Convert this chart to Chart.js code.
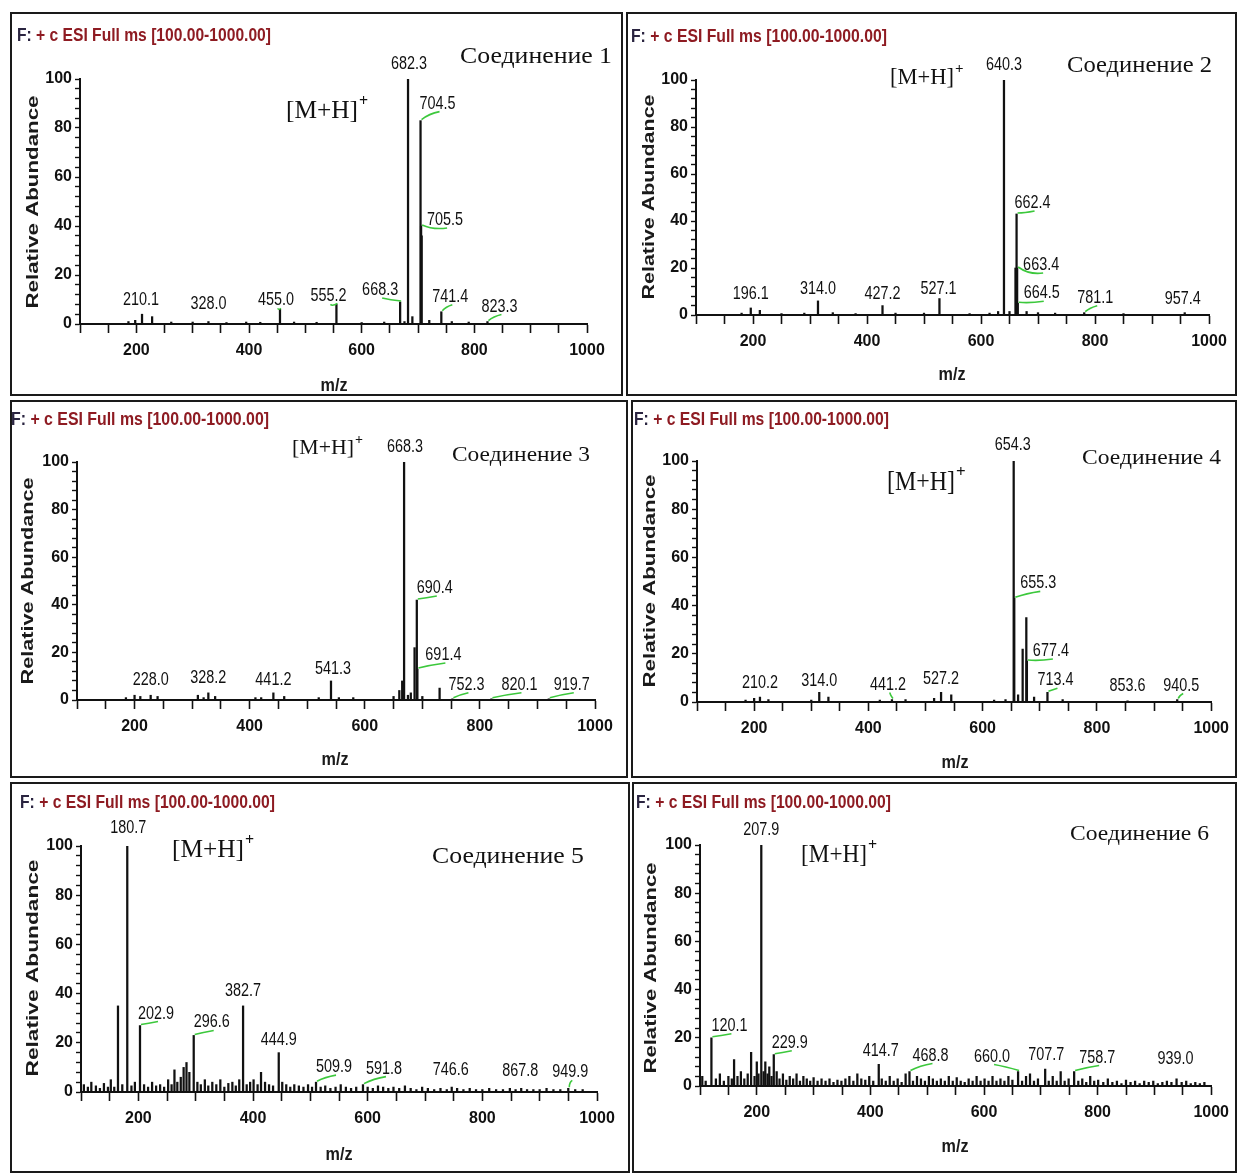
<!DOCTYPE html>
<html>
<head>
<meta charset="utf-8">
<script src="https://cdn.jsdelivr.net/npm/chart.js@4.4.1/dist/chart.umd.min.js"></script>
<style>
body{margin:0;background:#fff;width:1237px;height:1173px;position:relative;overflow:hidden}
.panel{position:absolute;box-sizing:border-box;border:2px solid #1a1a1a;background:#fff}
.panel canvas{position:absolute;left:-2px;top:-2px}
</style>
</head>
<body>
<script>
// Спектры: [m/z, относительная интенсивность %]
const peaks1 = [[186,1],[198,1.5],[210.1,4],[228,3],[262,0.8],[300,0.8],[328.0,1],[360,0.6],[395,0.8],[420,0.7],
  [455.0,6],[480,0.8],[520,0.7],[555.2,8],[600,0.6],[640,0.8],[668.3,9],[676,1],[682.3,100],[690,3],
  [704.5,83],[705.5,40],[706.5,36],[720,1.5],[741.4,5],[760,1],[790,0.8],[823.3,1]];
const peaks2 = [[180,0.8],[196.1,3],[212,2],[250,0.6],[290,0.8],[314.0,6],[340,1],[380,0.6],[427.2,4],[450,0.8],
  [500,0.8],[527.1,7],[580,0.6],[615,0.8],[630,1.5],[640.3,100],[650,1.5],[660.5,20],[662.4,43],[663.4,20],
  [664.5,5],[680,1.5],[700,1],[730,0.8],[781.1,1],[850,0.6],[957.4,1]];
const peaks3 = [[185,1],[200,2],[210,1.5],[228.0,2],[240,1.5],[310,2],[320,1],[328.2,3],[340,1.5],[410,1],
  [420,1],[441.2,3],[460,1.5],[520,1],[541.3,8],[555,1],[580,1],[650,1.5],[660,4],[665,8],[668.3,100],
  [675,2],[680,3],[686.5,22],[690.4,42],[691.4,13],[700,1.5],[730,5],[752.3,0.5],[820.1,0.5],[919.7,0.5]];
const peaks4 = [[185,0.8],[200,1.5],[210.2,2],[225,1],[300,0.8],[314.0,4],[330,2],[420,0.8],[441.2,1],[465,1],
  [515,1.5],[527.2,4],[545,3],[620,0.8],[640,1],[654.3,100],[655.3,43],[662,3],[670,22],[676.4,35],
  [677.4,17],[690,2],[713.4,4],[740,1],[853.6,0.5],[940.5,1]];
const peaks5 = [[105,3],[112,2],[118,4],[126,2.5],[133,1.5],[140,3.5],[147,2],[152,5],[158,2],[164.5,35],
  [172,3],[180.7,100],[188,2.5],[194,4],[202.9,27],[210,3],[217,2],[224,4],[231,2.5],[238,3],
  [245,2],[252,5],[258,3],[263,9],[268,4],[274,6],[279,10],[284,12],[289,8],[296.6,23],
  [303,4],[309,3],[316,5],[322,2.5],[329,4],[336,3],[343,5],[350,2],[357,3.5],[364,4],
  [370,2.5],[376,5],[382.7,35],[389,3],[395,4],[401,5],[408,3],[414,8],[421,4],[428,3],
  [435,2.5],[444.9,16],[451,4],[458,3],[465,2],[472,3],[480,2.5],[488,2],[496,3],[503,2],
  [509.9,4],[518,2],[526,2.5],[535,1.5],[544,2],[553,3],[562,2],[571,1.5],[580,2],[591.8,3],
  [600,2],[609,1.5],[618,2.5],[627,2],[636,1.5],[645,2],[655,1.5],[665,2.5],[675,1.5],[685,1],
  [695,2],[705,1.5],[716,1],[727,1.5],[738,1],[746.6,2],[756,1.5],[767,1],[778,1.5],[789,1],
  [800,1],[812,1.5],[824,1],[836,1],[848,1.5],[858,1],[867.8,1.5],[878,1],[889,1],[900,1],
  [912,1.5],[924,1],[936,1],[949.9,1.5],[962,1],[975,1]];
const peaks6 = [[104,4],[110,2],[120.1,20],[128,3],[135,5],[142,2],[150,4],[156,3],[160,11],[166,4],
  [172,6],[178,3],[184,5],[190,14],[196,4],[200,10],[203,5],[207.9,100],[212,6],[215,10],
  [219,5],[222,8],[226,4],[229.9,13],[235,6],[240,3],[246,5],[252,2.5],[258,4],[264,3],
  [270,5],[276,2],[282,4],[288,3],[294,2],[300,3.5],[307,2],[314,3],[321,2],[328,3],
  [335,1.5],[342,2.5],[349,2],[356,3],[363,4],[370,2],[377,5],[384,3],[391,2.5],[398,4],
  [405,2],[414.7,9],[420,3],[427,2],[434,4],[441,2],[448,3],[455,1.5],[462,5],[468.8,6],
  [475,2],[482,4],[489,3],[496,2],[503,4],[510,3],[517,2],[524,3],[531,2],[538,4],
  [545,2],[552,3.5],[559,2],[566,1.5],[573,3],[580,2],[587,4],[594,2],[601,3],[608,2],
  [615,4],[622,2],[629,3],[636,2],[643,4],[650,2.5],[660.0,6],[667,2],[674,4],[681,5],
  [688,2],[695,3],[707.7,7],[714,2],[721,4],[728,2],[735,6],[742,2],[749,3],[758.7,6],
  [766,2],[773,3],[780,1.5],[787,4],[794,2],[801,2.5],[810,1.5],[818,3],[826,1.5],[834,2],
  [842,1],[850,2.5],[858,1.5],[866,2],[874,1],[882,2],[890,1.5],[898,2],[906,1],[914,1.5],
  [922,2],[930,1.5],[939.0,3],[948,1.5],[956,2],[964,1],[972,1.5],[980,1],[988,1.5]];

// подписанные пики
const labels1 = ['210.1','328.0','455.0','555.2','668.3','682.3','704.5','705.5','741.4','823.3'];
const labels2 = ['196.1','314.0','427.2','527.1','640.3','662.4','663.4','664.5','781.1','957.4'];
const labels3 = ['228.0','328.2','441.2','541.3','668.3','690.4','691.4','752.3','820.1','919.7'];
const labels4 = ['210.2','314.0','441.2','527.2','654.3','655.3','677.4','713.4','853.6','940.5'];
const labels5 = ['180.7','202.9','296.6','382.7','444.9','509.9','591.8','746.6','867.8','949.9'];
const labels6 = ['120.1','207.9','229.9','414.7','468.8','660.0','707.7','758.7','939.0'];

const names = ['Соединение 1','Соединение 2','Соединение 3','Соединение 4','Соединение 5','Соединение 6'];
const xTicks = [200, 400, 600, 800, 1000];
const yTicks = [0, 20, 40, 60, 80, 100];
const titleText = 'F: + c ESI Full ms [100.00-1000.00]';

// раскладка панелей (координаты страницы)
const panels = [
  {peaks: peaks1, labels: labels1, name: names[0], box: [10,12,613,384], area: [80,79,587,324],
   title: [17,36,254], cmp: [460,57,152,24], mh: [286,111,72,26], ra: [33,202,213], mz: [334,386],
   tags: {'210.1':[-1,-14,0],'328.0':[0,-18,0],'455.0':[-4,-9,1],'555.2':[-8,-8,1],'668.3':[-20,-12,1],
          '682.3':[1,-15,0],'704.5':[17,-17,1],'705.5':[24,-6,1],'741.4':[9,-15,1],'823.3':[12,-15,1]}},
  {peaks: peaks2, labels: labels2, name: names[1], box: [626,12,611,384], area: [696,80,1209,315],
   title: [631,37,256], cmp: [1067,66,145,24], mh: [890,78,64,24], ra: [649,197,205], mz: [952,375],
   tags: {'196.1':[0,-14,0],'314.0':[0,-12,0],'427.2':[0,-12,0],'527.1':[-1,-10,0],'640.3':[0,-15,0],
          '662.4':[16,-11,1],'663.4':[24,-3,1],'664.5':[24,-10,1],'781.1':[11,-15,1],'957.4':[-2,-14,0]}},
  {peaks: peaks3, labels: labels3, name: names[2], box: [10,400,618,378], area: [77,462,595,700],
   title: [11,420,258], cmp: [452,455,138,22], mh: [292,448,62,22], ra: [28,581,207], mz: [335,760],
   tags: {'228.0':[0,-15,0],'328.2':[0,-15,0],'441.2':[0,-13,0],'541.3':[2,-12,0],'668.3':[1,-15,0],
          '690.4':[18,-12,1],'691.4':[26,-14,1],'752.3':[14,-14,1],'820.1':[28,-14,1],'919.7':[23,-14,1]}},
  {peaks: peaks4, labels: labels4, name: names[3], box: [631,400,606,378], area: [697,461,1214,702],
   title: [634,420,255], cmp: [1082,458,139,22], mh: [887,483,68,28], ra: [650,581,213], mz: [955,763],
   tags: {'210.2':[0,-14,0],'314.0':[0,-11,0],'441.2':[-4,-15,1],'527.2':[0,-13,0],'654.3':[-1,-16,0],
          '655.3':[24,-15,1],'677.4':[24,-10,1],'713.4':[8,-12,1],'853.6':[0,-15,0],'940.5':[4,-14,1]}},
  {peaks: peaks5, labels: labels5, name: names[4], box: [10,782,620,391], area: [81,846,597,1092],
   title: [20,803,255], cmp: [432,857,152,24], mh: [172,850,72,26], ra: [33,968,217], mz: [339,1155],
   tags: {'180.7':[1,-18,0],'202.9':[16,-12,1],'296.6':[18,-13,1],'382.7':[0,-15,0],'444.9':[0,-13,0],
          '509.9':[18,-15,1],'591.8':[21,-16,1],'746.6':[-1,-17,0],'867.8':[-1,-17,0],'949.9':[2,-16,1]}},
  {peaks: peaks6, labels: labels6, name: names[5], box: [632,782,605,391], area: [700,845,1213,1086],
   title: [636,803,255], cmp: [1070,834,139,22], mh: [801,855,66,26], ra: [651,968,211], mz: [955,1147],
   tags: {'120.1':[18,-12,1],'207.9':[0,-15,0],'229.9':[16,-12,1],'414.7':[2,-13,0],'468.8':[21,-16,1],
          '660.0':[-26,-15,1],'707.7':[1,-14,0],'758.7':[23,-14,1],'939.0':[-1,-20,0]}}
];

const SANS = '"Liberation Sans", Arial, sans-serif';
const SERIF = '"Liberation Serif", "Times New Roman", serif';

// текст, сжатый/растянутый по ширине
function fitText(ctx, txt, x, y, w, font, color, align) {
  ctx.save();
  ctx.font = font;
  ctx.fillStyle = color;
  ctx.textBaseline = 'middle';
  const m = ctx.measureText(txt).width;
  ctx.translate(x, y);
  ctx.scale(w / m, 1);
  ctx.textAlign = align || 'left';
  ctx.fillText(txt, 0, 0);
  ctx.restore();
}

function textWidth(ctx, txt, font) {
  ctx.save();
  ctx.font = font;
  const w = ctx.measureText(txt).width;
  ctx.restore();
  return w;
}

function annotPlugin(p) {
  const L = p.box[0], T = p.box[1];
  return {
    id: 'annot',
    afterDraw(chart) {
      const ctx = chart.ctx, xs = chart.scales.x, ys = chart.scales.y;

      // подписи пиков
      const lf = '18px ' + SANS;
      p.labels.forEach(lab => {
        const v = parseFloat(lab);
        const pk = p.peaks.find(q => Math.abs(q[0] - v) < 0.01);
        if (!pk) return;
        const px = xs.getPixelForValue(pk[0]), py = ys.getPixelForValue(pk[1]);
        const t = p.tags[lab] || [0, -14, 0];
        const cx = px + t[0], cy = py + t[1];
        if (t[2]) {
          ctx.save();
          ctx.strokeStyle = '#3cc83c';
          ctx.lineWidth = 1.6;
          ctx.beginPath();
          ctx.moveTo(px + 1, py - 1);
          ctx.quadraticCurveTo((px + cx) / 2, cy + 10, cx + 2, cy + 8);
          ctx.stroke();
          ctx.restore();
        }
        fitText(ctx, lab, cx, cy, textWidth(ctx, lab, lf) * 0.8, lf, '#111', 'center');
      });

      // заголовок прибора
      const [tx, ty, tw] = p.title;
      const tf = 'bold 18px ' + SANS;
      const sx = tw / textWidth(ctx, titleText, tf);
      const head = textWidth(ctx, 'F: ', tf) * sx;
      fitText(ctx, 'F:', tx - L, ty - T, textWidth(ctx, 'F:', tf) * sx, tf, '#2a2440');
      fitText(ctx, titleText.slice(3), tx - L + head, ty - T, tw - head, tf, '#8e1b22');

      // название соединения
      const [nx, ny, nw, ns] = p.cmp;
      fitText(ctx, p.name, nx - L, ny - T, nw, ns + 'px ' + SERIF, '#111');

      // [M+H]+
      const [mx, my, mw, ms] = p.mh;
      fitText(ctx, '[M+H]', mx - L, my - T, mw, ms + 'px ' + SERIF, '#111');
      ctx.save();
      ctx.font = 'bold ' + Math.round(ms * 0.62) + 'px ' + SERIF;
      ctx.fillStyle = '#111';
      ctx.textBaseline = 'middle';
      ctx.fillText('+', mx - L + mw + 1, my - T - ms * 0.36);
      ctx.restore();

      // подписи осей
      const [rx, ry, rl] = p.ra;
      ctx.save();
      ctx.translate(rx - L, ry - T);
      ctx.rotate(-Math.PI / 2);
      fitText(ctx, 'Relative Abundance', 0, 0, rl, 'bold 17px ' + SANS, '#1a1a1a', 'center');
      ctx.restore();
      fitText(ctx, 'm/z', p.mz[0] - L, p.mz[1] - T, 27, 'bold 18px ' + SANS, '#1a1a1a', 'center');
    }
  };
}

const YW = 44, XH = 40;

panels.forEach(p => {
  const [L, T, W, H] = p.box;
  const [al, at, ar, ab] = p.area;
  const wrap = document.createElement('div');
  wrap.className = 'panel';
  Object.assign(wrap.style, {left: L + 'px', top: T + 'px', width: W + 'px', height: H + 'px'});
  const cv = document.createElement('canvas');
  cv.width = W; cv.height = H;
  cv.style.width = W + 'px'; cv.style.height = H + 'px';
  wrap.appendChild(cv);
  document.body.appendChild(wrap);

  const tickFont = {family: SANS, size: 16, weight: 'bold'};

  new Chart(cv, {
    type: 'bar',
    data: {
      datasets: [{
        data: p.peaks.map(q => ({x: q[0], y: q[1]})),
        backgroundColor: '#111',
        borderWidth: 0,
        barThickness: 1.6
      }]
    },
    options: {
      responsive: false,
      animation: false,
      layout: {padding: {left: al - L - YW, top: at - T, right: L + W - ar, bottom: T + H - ab - XH}},
      plugins: {legend: {display: false}, tooltip: {enabled: false}},
      scales: {
        x: {
          type: 'linear', min: 100, max: 1000, offset: false,
          afterFit: s => { s.height = XH; },
          border: {color: '#111', width: 2},
          grid: {display: true, drawOnChartArea: false, drawTicks: true, tickLength: 9, color: '#111', tickWidth: 1.6, offset: false},
          ticks: {stepSize: 50, autoSkip: false, maxRotation: 0, padding: 8, color: '#111', font: tickFont,
                  callback: v => xTicks.includes(v) ? String(v) : ''}
        },
        y: {
          min: 0, max: 100,
          afterFit: s => { s.width = YW; },
          border: {color: '#111', width: 2},
          grid: {display: true, drawOnChartArea: false, drawTicks: true, tickLength: 5, color: '#111', tickWidth: 1.4},
          ticks: {stepSize: 4, autoSkip: false, padding: 3, color: '#111', font: tickFont,
                  callback: v => yTicks.includes(v) ? String(v) : ''}
        }
      }
    },
    plugins: [annotPlugin(p)]
  });
});
</script>
</body>
</html>
